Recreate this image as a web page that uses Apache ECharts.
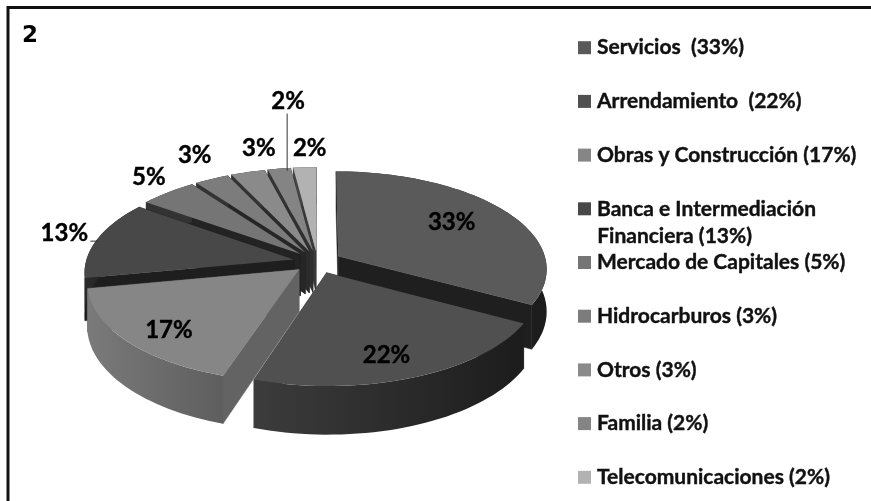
<!DOCTYPE html>
<html>
<head>
<meta charset="utf-8">
<style>
  html, body { margin: 0; padding: 0; background: #fff; }
  #chart { width: 871px; height: 501px; }
</style>
<script src="https://cdn.jsdelivr.net/npm/echarts@6/dist/echarts.min.js"></script>
</head>
<body>
<div id="chart"></div>
<script>
// data
const names = [
  "Servicios  (33%)",
  "Arrendamiento  (22%)",
  "Obras y Construcción (17%)",
  "Banca e Intermediación",
  "Mercado de Capitales (5%)",
  "Hidrocarburos (3%)",
  "Otros (3%)",
  "Familia (2%)",
  "Telecomunicaciones (2%)",
];
const values = [33, 22, 17, 13, 5, 3, 3, 2, 2];
const secondLine = "Financiera (13%)";

// greys: top face, radial wall, rim left, rim right
const topColors = ["#5a5a5a", "#505050", "#868686", "#484848", "#757575", "#7c7c7c", "#8a8a8a", "#848484", "#b2b2b2"];
const wallColors = ["#1f1f1f", "#242424", "#636363", "#1e1e1e", "#232323", "#262626", "#2b2b2b", "#2f2f2f", "#3a3a3a"];
const rimLeft = ["#262626", "#3c3c3c", "#7a7a7a", "#2a2a2a", "#333", "#333", "#333", "#333", "#444"];
const rimRight = ["#1c1c1c", "#1c1c1c", "#5e5e5e", "#1e1e1e", "#333", "#333", "#333", "#333", "#444"];

// label anchor: radius on the slice, then pixel shift
const labelRadius = [0.7, 0.7, 0.7, 1, 1, 1, 1, 1, 1];
const labelShift = [[-5, -2], [0, 12], [-12, 12], [-33, -6], [-19, -15], [-17, -24], [11, -24], [9, -67], [5, -19]];

// pie projection
const CX = 317.5, CY = 262, RX = 208, RY = 96.6;
const PERSP = 0.123, DEPTH = 42, EXPLODE = 0.117;

const total = values.reduce((a, b) => a + b, 0);
let acc = 0;
const slices = values.map((v, i) => {
  const start = (acc / total) * Math.PI * 2;
  acc += v;
  const end = (acc / total) * Math.PI * 2;
  return { i, start, end, mid: (start + end) / 2 };
});
// painter order, back slices first
const drawOrder = slices.slice().sort((a, b) => -Math.cos(b.mid) < -Math.cos(a.mid) ? 1 : -1);

function project(ang, r, mid, lift) {
  const X = r * Math.sin(ang) + EXPLODE * Math.sin(mid);
  const Y = -r * Math.cos(ang) - EXPLODE * Math.cos(mid);
  const s = 1 / (1 - PERSP * Y);
  return [CX + RX * X * s, CY + RY * Y * s + lift * DEPTH * s];
}

function renderSlice(params, api) {
  const i = api.value(0);
  const s = slices[i];
  const rim = [], rimLow = [];
  const steps = Math.max(6, Math.round((s.end - s.start) * 30));
  for (let k = 0; k <= steps; k++) {
    const a = s.start + ((s.end - s.start) * k) / steps;
    rim.push(project(a, 1, s.mid, 0));
    rimLow.push(project(a, 1, s.mid, 1));
  }
  const apex = project(0, 0, s.mid, 0);
  const apexLow = project(0, 0, s.mid, 1);
  const wall = (pts) => ({
    type: "polygon",
    shape: { points: pts },
    style: { fill: wallColors[i], stroke: wallColors[i], lineWidth: 0.5 },
  });
  const first = rim[0], firstLow = rimLow[0];
  const last = rim[steps], lastLow = rimLow[steps];
  const children = [
    wall([apex, first, firstLow, apexLow]),
    wall([apex, last, lastLow, apexLow]),
    {
      type: "polygon",
      shape: { points: rim.concat(rimLow.slice().reverse()) },
      style: {
        fill: new echarts.graphic.LinearGradient(0, 0, 1, 0, [
          { offset: 0, color: rimLeft[i] },
          { offset: 1, color: rimRight[i] },
        ]),
      },
    },
    {
      type: "polygon",
      shape: { points: [apex].concat(rim) },
      style: { fill: topColors[i] },
    },
  ];
  const p = project(s.mid, labelRadius[i], s.mid, 0);
  const lx = p[0] + labelShift[i][0], ly = p[1] + labelShift[i][1];
  children.push({
    type: "text",
    z2: 10,
    style: {
      x: lx,
      y: ly,
      text: values[i] + "%",
      align: "center",
      verticalAlign: "middle",
      font: "bold 24px Lato",
      fill: "#000",
      stroke: "#000",
      lineWidth: 0.4,
    },
  });
  // leader lines of the two outer labels
  if (values[i] === 13 || i === 7) {
    const edge = project(s.mid, 1, s.mid, 0);
    const line = i === 7
      ? { x1: lx - 1, y1: ly + 12, x2: lx - 1, y2: edge[1] + 2 }
      : { x1: lx + 26, y1: ly + 8, x2: lx + 34, y2: ly + 8 };
    children.push({
      type: "line",
      shape: line,
      style: { stroke: "#333", lineWidth: 1 },
    });
  }
  return { type: "group", children };
}

const chart = echarts.init(document.getElementById("chart"), null, { renderer: "canvas" });
chart.setOption({
  animation: false,
  backgroundColor: "#fff",
  title: {
    text: "2",
    left: 17,
    top: 20,
    textStyle: { fontFamily: "DejaVu Sans", fontWeight: "bold", fontSize: 23, color: "#000" },
  },
  legend: {
    orient: "vertical",
    left: 573,
    top: 32,
    itemWidth: 13,
    itemHeight: 13,
    itemGap: 32.3,
    icon: "rect",
    selectedMode: false,
    data: names,
    textStyle: {
      fontFamily: "Lato",
      fontWeight: "bold",
      fontSize: 21,
      color: "#111",
      textBorderColor: "#111",
      textBorderWidth: 0.4,
      padding: [0, 0, 0, 1],
    },
  },
  graphic: [
    { type: "line", shape: { x1: 8, y1: 7.5, x2: 871, y2: 7.5 }, style: { stroke: "#111", lineWidth: 3 } },
    { type: "line", shape: { x1: 8, y1: 6, x2: 8, y2: 501 }, style: { stroke: "#111", lineWidth: 3 } },
    {
      type: "text",
      left: 597,
      top: 226,
      style: { text: secondLine, font: "bold 21px Lato", fill: "#111", stroke: "#111", lineWidth: 0.4 },
    },
  ],
  series: drawOrder.map((s) => ({
    type: "custom",
    name: names[s.i],
    coordinateSystem: "none",
    itemStyle: { color: topColors[s.i] },
    renderItem: renderSlice,
    data: [[s.i]],
    silent: true,
  })),
});
</script>
</body>
</html>
